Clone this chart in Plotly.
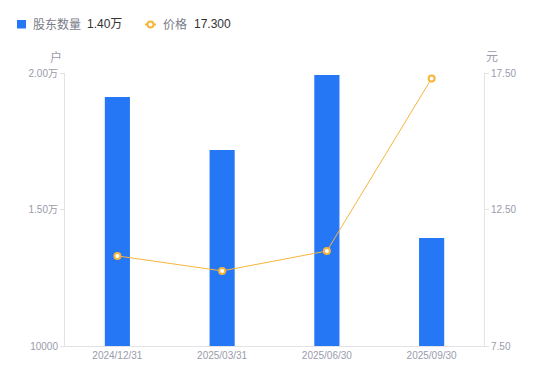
import plotly.graph_objects as go

categories = ["2024/12/31", "2025/03/31", "2025/06/30", "2025/09/30"]
holders = [19120, 17180, 19930, 13960]
prices = [10.80, 10.25, 10.98, 17.30]

left_tickvals = [10000, 15000, 20000]
left_ticktext = ["10000", "1.50万", "2.00万"]
right_tickvals = [7.5, 12.5, 17.5]
right_ticktext = ["7.50", "12.50", "17.50"]

BLUE = "#2577f6"
ORANGE = "#f7b53b"
GRAY = "#9a9bab"
AXIS = "#e3e3e6"
FONT = "Liberation Sans, Noto Sans CJK SC, sans-serif"

# page body has an 8px margin; the figure is sized so it fits the 550x381 window
PAGE_OFF = 8
W, H = 550 - PAGE_OFF, 381 - PAGE_OFF
L, T, R, B = 65 - PAGE_OFF, 73 - PAGE_OFF, 66, 35
PW = W - L - R

fig = go.Figure()
fig.add_trace(go.Bar(
    x=categories, y=holders, name="股东数量", marker=dict(color=BLUE, line=dict(width=0)),
    width=0.24, yaxis="y", hoverinfo="skip",
))
fig.add_trace(go.Scatter(
    x=categories, y=prices, name="价格", mode="lines+markers", yaxis="y2",
    line=dict(color=ORANGE, width=1),
    marker=dict(symbol="circle", size=6, color="white", line=dict(color=ORANGE, width=2)),
    hoverinfo="skip",
))

x_left = -L / PW  # paper x of the figure's left edge

fig.update_layout(
    width=W, height=H,
    margin=dict(l=L, r=R, t=T, b=B, autoexpand=False),
    paper_bgcolor="white", plot_bgcolor="white",
    showlegend=False,
    font=dict(family=FONT, size=10, color=GRAY),
    xaxis=dict(
        type="category", showgrid=False, showline=True, linecolor=AXIS, linewidth=1,
        ticks="", tickfont=dict(size=10, color=GRAY), zeroline=False, automargin=False,
    ),
    yaxis=dict(
        range=[10000, 20000], tickvals=left_tickvals, ticktext=left_ticktext,
        showgrid=False, showline=True, linecolor=AXIS, linewidth=1,
        ticks="outside", ticklen=4, tickcolor=AXIS, zeroline=False,
        tickfont=dict(size=10, color=GRAY), automargin=False,
    ),
    yaxis2=dict(
        range=[7.5, 17.5], tickvals=right_tickvals, ticktext=right_ticktext,
        overlaying="y", side="right", showgrid=False, showline=True,
        linecolor=AXIS, linewidth=1, ticks="outside", ticklen=4, tickcolor=AXIS,
        zeroline=False, tickfont=dict(size=10, color=GRAY), automargin=False,
    ),
    annotations=[
        dict(text="户", xref="paper", yref="paper", x=0, xshift=-1, y=1.0, yshift=16,
             xanchor="right", yanchor="middle", showarrow=False,
             font=dict(size=12, color=GRAY, family=FONT)),
        dict(text="元", xref="paper", yref="paper", x=1.0, xshift=0, y=1.0, yshift=16,
             xanchor="left", yanchor="middle", showarrow=False,
             font=dict(size=12, color=GRAY, family=FONT)),
        dict(text="股东数量", xref="paper", yref="paper",
             x=x_left, xshift=31 - PAGE_OFF, y=1.0, yshift=49, xanchor="left", yanchor="middle",
             showarrow=False, font=dict(size=12, color="#7a7b88", family=FONT)),
        dict(text="1.40万", xref="paper", yref="paper",
             x=x_left, xshift=85 - PAGE_OFF, y=1.0, yshift=49, xanchor="left", yanchor="middle",
             showarrow=False, font=dict(size=12, color="#333333", family=FONT)),
        dict(text="价格", xref="paper", yref="paper",
             x=x_left, xshift=161 - PAGE_OFF, y=1.0, yshift=49, xanchor="left", yanchor="middle",
             showarrow=False, font=dict(size=12, color="#7a7b88", family=FONT)),
        dict(text="17.300", xref="paper", yref="paper",
             x=x_left, xshift=192 - PAGE_OFF, y=1.0, yshift=49, xanchor="left", yanchor="middle",
             showarrow=False, font=dict(size=12, color="#333333", family=FONT)),
    ],
)

# legend symbols: pixel-sized shapes anchored at the figure's left edge / plot top
fig.add_shape(type="rect", xref="paper", yref="paper", xsizemode="pixel", ysizemode="pixel",
              xanchor=x_left, yanchor=1.0, x0=17 - PAGE_OFF, x1=26 - PAGE_OFF, y0=44.5, y1=53,
              fillcolor=BLUE, line=dict(width=0))
fig.add_shape(type="line", xref="paper", yref="paper", xsizemode="pixel", ysizemode="pixel",
              xanchor=x_left, yanchor=1.0, x0=145 - PAGE_OFF, x1=156 - PAGE_OFF, y0=48.5, y1=48.5,
              line=dict(color=ORANGE, width=2))
fig.add_shape(type="circle", xref="paper", yref="paper", xsizemode="pixel", ysizemode="pixel",
              xanchor=x_left, yanchor=1.0, x0=147.5 - PAGE_OFF, x1=153.5 - PAGE_OFF, y0=45.5, y1=51.5,
              fillcolor="white", line=dict(color=ORANGE, width=2))

fig.write_html("out.html")
